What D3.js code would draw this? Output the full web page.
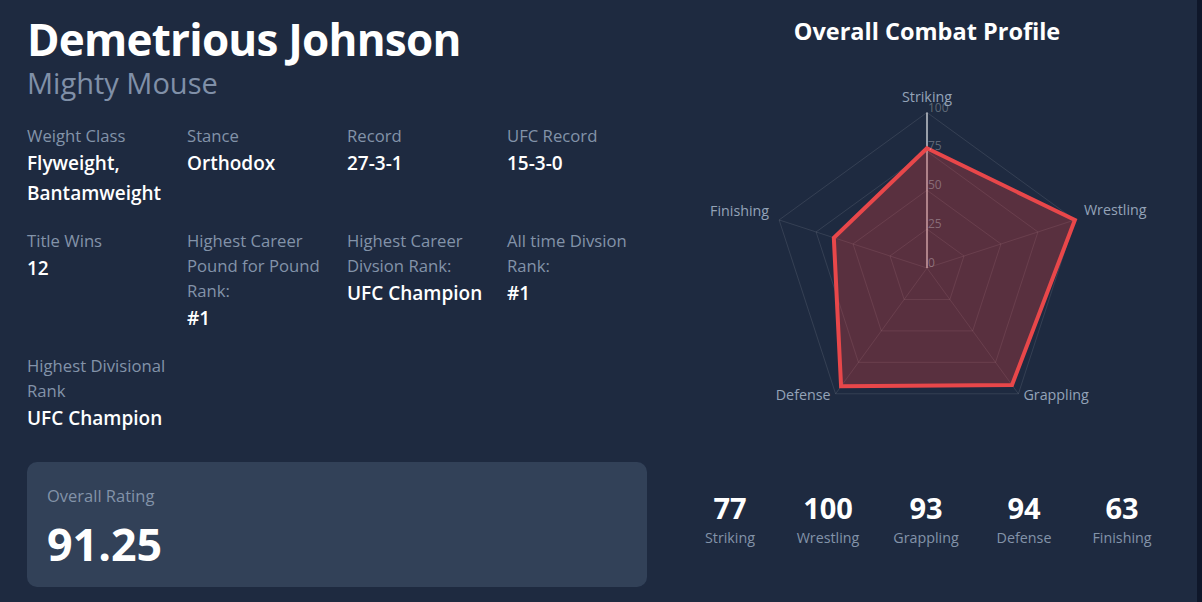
<!DOCTYPE html>
<html>
<head>
<meta charset="utf-8">
<script src="https://cdnjs.cloudflare.com/ajax/libs/d3/7.8.5/d3.min.js"></script>
<style>
  html, body { margin: 0; padding: 0; background: #0f172a; overflow: hidden; }
  svg { display: block; font-family: "Open Sans", "Noto Sans", sans-serif; }
</style>
</head>
<body>
<svg></svg>
<script>
const fighterName = "Demetrious Johnson";
const nickname = "Mighty Mouse";
const chartTitle = "Overall Combat Profile";
const ratingLabel = "Overall Rating";
const ratingValue = "91.25";

const axes = ["Striking", "Wrestling", "Grappling", "Defense", "Finishing"];
const scores = [77, 100, 93, 94, 63];
const ticks = [0, 25, 50, 75, 100];

const infoLabels = [
  ["Weight Class"], ["Stance"], ["Record"], ["UFC Record"],
  ["Title Wins"], ["Highest Career", "Pound for Pound", "Rank:"], ["Highest Career", "Divsion Rank:"], ["All time Divsion", "Rank:"],
  ["Highest Divisional", "Rank"]
];
const infoValues = [
  ["Flyweight,", "Bantamweight"], ["Orthodox"], ["27-3-1"], ["15-3-0"],
  ["12"], ["#1"], ["UFC Champion"], ["#1"],
  ["UFC Champion"]
];

const svg = d3.select("svg").attr("width", 1202).attr("height", 602);

svg.append("rect").attr("width", 1197).attr("height", 602).attr("fill", "#1e2a40");

svg.append("text").attr("x", 27).attr("y", 56)
  .attr("fill", "#fff").attr("font-size", 44).attr("font-weight", 700)
  .attr("letter-spacing", -0.77)
  .text(fighterName);
svg.append("text").attr("x", 27).attr("y", 94)
  .attr("fill", "#8090a8").attr("font-size", 29)
  .text(nickname);

// info grid
const colX = [27, 187, 347, 507];
const rowY = [142, 247, 372];
infoLabels.forEach((lines, i) => {
  const x = colX[i % 4];
  let y = rowY[Math.floor(i / 4)];
  lines.forEach(l => {
    svg.append("text").attr("x", x).attr("y", y)
      .attr("fill", "#8393a9").attr("font-size", 16.7).text(l);
    y += 25;
  });
  y += 3;
  infoValues[i].forEach(l => {
    svg.append("text").attr("x", x).attr("y", y)
      .attr("fill", "#fff").attr("font-size", 19).attr("font-weight", 600).text(l);
    y += 30;
  });
});

// rating card
svg.append("rect").attr("x", 27).attr("y", 462).attr("width", 620).attr("height", 125)
  .attr("rx", 10).attr("fill", "#324158");
svg.append("text").attr("x", 47).attr("y", 502)
  .attr("fill", "#8393a9").attr("font-size", 16.5).text(ratingLabel);
svg.append("text").attr("x", 47).attr("y", 561)
  .attr("fill", "#fff").attr("font-size", 44.8).attr("font-weight", 700).text(ratingValue);

// radar
svg.append("text").attr("x", 927).attr("y", 40).attr("text-anchor", "middle")
  .attr("fill", "#fff").attr("font-size", 23.5).attr("font-weight", 700).text(chartTitle);

const cx = 927, cy = 268;
const r = d3.scaleLinear().domain([0, 100]).range([0, 155.5]);
const angle = d3.scalePoint().domain(axes).range([0, 2 * Math.PI * 4 / 5]);
const radar = svg.append("g").attr("transform", `translate(${cx},${cy})`);
const line = d3.lineRadial().angle(d => angle(d.axis)).radius(d => r(d.value)).curve(d3.curveLinearClosed);

radar.selectAll(".grid").data(ticks.slice(1)).join("path")
  .attr("class", "grid").attr("fill", "none")
  .attr("stroke", "rgba(255,255,255,0.1)").attr("stroke-width", 1)
  .attr("d", t => line(axes.map(a => ({ axis: a, value: t }))));

radar.selectAll(".spoke").data(axes).join("line")
  .attr("class", "spoke")
  .attr("x2", a => r(100) * Math.sin(angle(a)))
  .attr("y2", a => -r(100) * Math.cos(angle(a)))
  .attr("stroke", a => a === axes[0] ? "rgba(255,255,255,0.55)" : "rgba(255,255,255,0.1)")
  .attr("stroke-width", a => a === axes[0] ? 2 : 1);

const rows = axes.map((a, i) => ({ axis: a, value: scores[i] }));
radar.append("path").attr("d", line(rows))
  .attr("fill", "rgba(229,62,62,0.3)").attr("stroke", "#e8474a")
  .attr("stroke-width", 4).attr("stroke-linejoin", "miter");

radar.selectAll(".tick").data(ticks).join("text")
  .attr("class", "tick").attr("x", 1).attr("y", t => -r(t) - 1)
  .attr("fill", "rgba(255,255,255,0.3)").attr("font-size", 12).text(d => d);

// axis name positions are pushed out from the vertex
const labelPos = [
  { dx: 0, dy: -11, anchor: "middle" },
  { dx: 9, dy: -5, anchor: "start" },
  { dx: 5, dy: 6, anchor: "start" },
  { dx: -5, dy: 6, anchor: "end" },
  { dx: -10, dy: -4, anchor: "end" }
];
radar.selectAll(".axis-name").data(axes).join("text")
  .attr("class", "axis-name")
  .attr("x", (a, i) => r(100) * Math.sin(angle(a)) + labelPos[i].dx)
  .attr("y", (a, i) => -r(100) * Math.cos(angle(a)) + labelPos[i].dy)
  .attr("text-anchor", (a, i) => labelPos[i].anchor)
  .attr("fill", "#94a3b8").attr("font-size", 14.3)
  .text(a => a);

// score row
const sx = d3.scalePoint().domain(axes).range([730, 1122]);
svg.selectAll(".score").data(rows).join("text")
  .attr("class", "score").attr("x", d => sx(d.axis)).attr("y", 519)
  .attr("text-anchor", "middle").attr("fill", "#fff")
  .attr("font-size", 29).attr("font-weight", 700).text(d => d.value);
svg.selectAll(".score-name").data(rows).join("text")
  .attr("class", "score-name").attr("x", d => sx(d.axis)).attr("y", 543)
  .attr("text-anchor", "middle").attr("fill", "#8393a9")
  .attr("font-size", 14.3).text(d => d.axis);
</script>
</body>
</html>
